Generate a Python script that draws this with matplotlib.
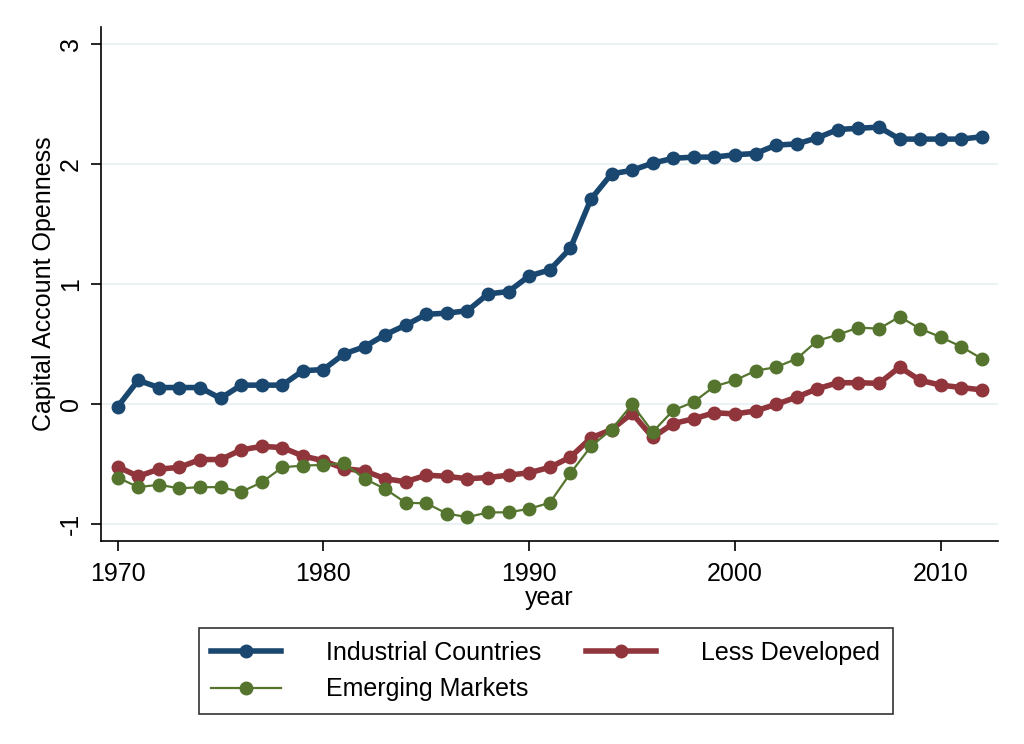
import numpy as np
import matplotlib.pyplot as plt

plt.rcParams['font.family'] = ['Liberation Sans', 'DejaVu Sans']

years = np.arange(1970, 2013)

industrial = [-0.02, 0.20, 0.14, 0.14, 0.14, 0.05, 0.16, 0.16, 0.16, 0.28,
              0.29, 0.42, 0.48, 0.58, 0.66, 0.75, 0.76, 0.78, 0.92, 0.94,
              1.07, 1.12, 1.30, 1.71, 1.92, 1.95, 2.01, 2.05, 2.06, 2.06,
              2.08, 2.09, 2.16, 2.17, 2.22, 2.29, 2.30, 2.31, 2.21, 2.21,
              2.21, 2.21, 2.23]

less_developed = [-0.52, -0.60, -0.54, -0.525, -0.46, -0.46, -0.38, -0.35, -0.36, -0.43,
                  -0.47, -0.535, -0.555, -0.62, -0.645, -0.59, -0.60, -0.62, -0.61, -0.59,
                  -0.57, -0.525, -0.44, -0.28, -0.21, -0.075, -0.275, -0.16, -0.12, -0.07,
                  -0.08, -0.055, 0.00, 0.06, 0.13, 0.18, 0.18, 0.175, 0.31, 0.20,
                  0.16, 0.14, 0.12]

emerging = [-0.61, -0.69, -0.67, -0.70, -0.69, -0.69, -0.73, -0.65, -0.525, -0.51,
            -0.505, -0.49, -0.62, -0.705, -0.82, -0.825, -0.91, -0.94, -0.90, -0.90,
            -0.87, -0.82, -0.575, -0.35, -0.21, 0.00, -0.23, -0.05, 0.02, 0.15,
            0.20, 0.28, 0.31, 0.38, 0.53, 0.58, 0.64, 0.63, 0.73, 0.63,
            0.56, 0.48, 0.38]

navy = '#1a476f'
maroon = '#90353b'
green = '#55752f'

fig = plt.figure(figsize=(10.24, 7.44), dpi=100)
ax = fig.add_axes([0.0986, 0.2728, 0.876, 0.6909])

h1, = ax.plot(years, industrial, color=navy, lw=4, marker='o', ms=9, label='Industrial Countries', zorder=3)
h2, = ax.plot(years, less_developed, color=maroon, lw=4, marker='o', ms=9, label='Less Developed', zorder=3)
h3, = ax.plot(years, emerging, color=green, lw=1.6, marker='o', ms=9, label='Emerging Markets', zorder=4)

ax.set_xlim(1969.19, 2012.78)
ax.set_ylim(-1.139, 3.144)
ax.set_xticks([1970, 1980, 1990, 2000, 2010])
ax.set_yticks([-1, 0, 1, 2, 3])
ax.set_yticklabels(['-1', '0', '1', '2', '3'], rotation=90, va='center')

ax.grid(axis='y', color='#eaf2f3', lw=1.5, zorder=0)
ax.set_axisbelow(True)
for s in ['top', 'right']:
    ax.spines[s].set_visible(False)
for s in ['left', 'bottom']:
    ax.spines[s].set_linewidth(1.2)
    ax.spines[s].set_color('black')

ax.tick_params(axis='both', labelsize=18, length=7, width=1.2, colors='black')
ax.tick_params(axis='y', pad=6)
ax.tick_params(axis='x', pad=8)

ax.set_ylabel('Capital Account Openness', fontsize=18, labelpad=2)
ax.set_xlabel('year', fontsize=18, labelpad=0)

leg = fig.legend([h1, h3, h2], ['Industrial Countries', 'Emerging Markets', 'Less Developed'],
                 ncol=2, loc='center', bbox_to_anchor=(0.533, 0.098), fontsize=18,
                 frameon=True, fancybox=False, edgecolor='black', handlelength=2.8,
                 columnspacing=1.8, handletextpad=1.8, labelspacing=0.5, borderpad=0.5,
                 borderaxespad=0)
leg.get_frame().set_linewidth(1.2)

fig.savefig('out.png', dpi=100)
